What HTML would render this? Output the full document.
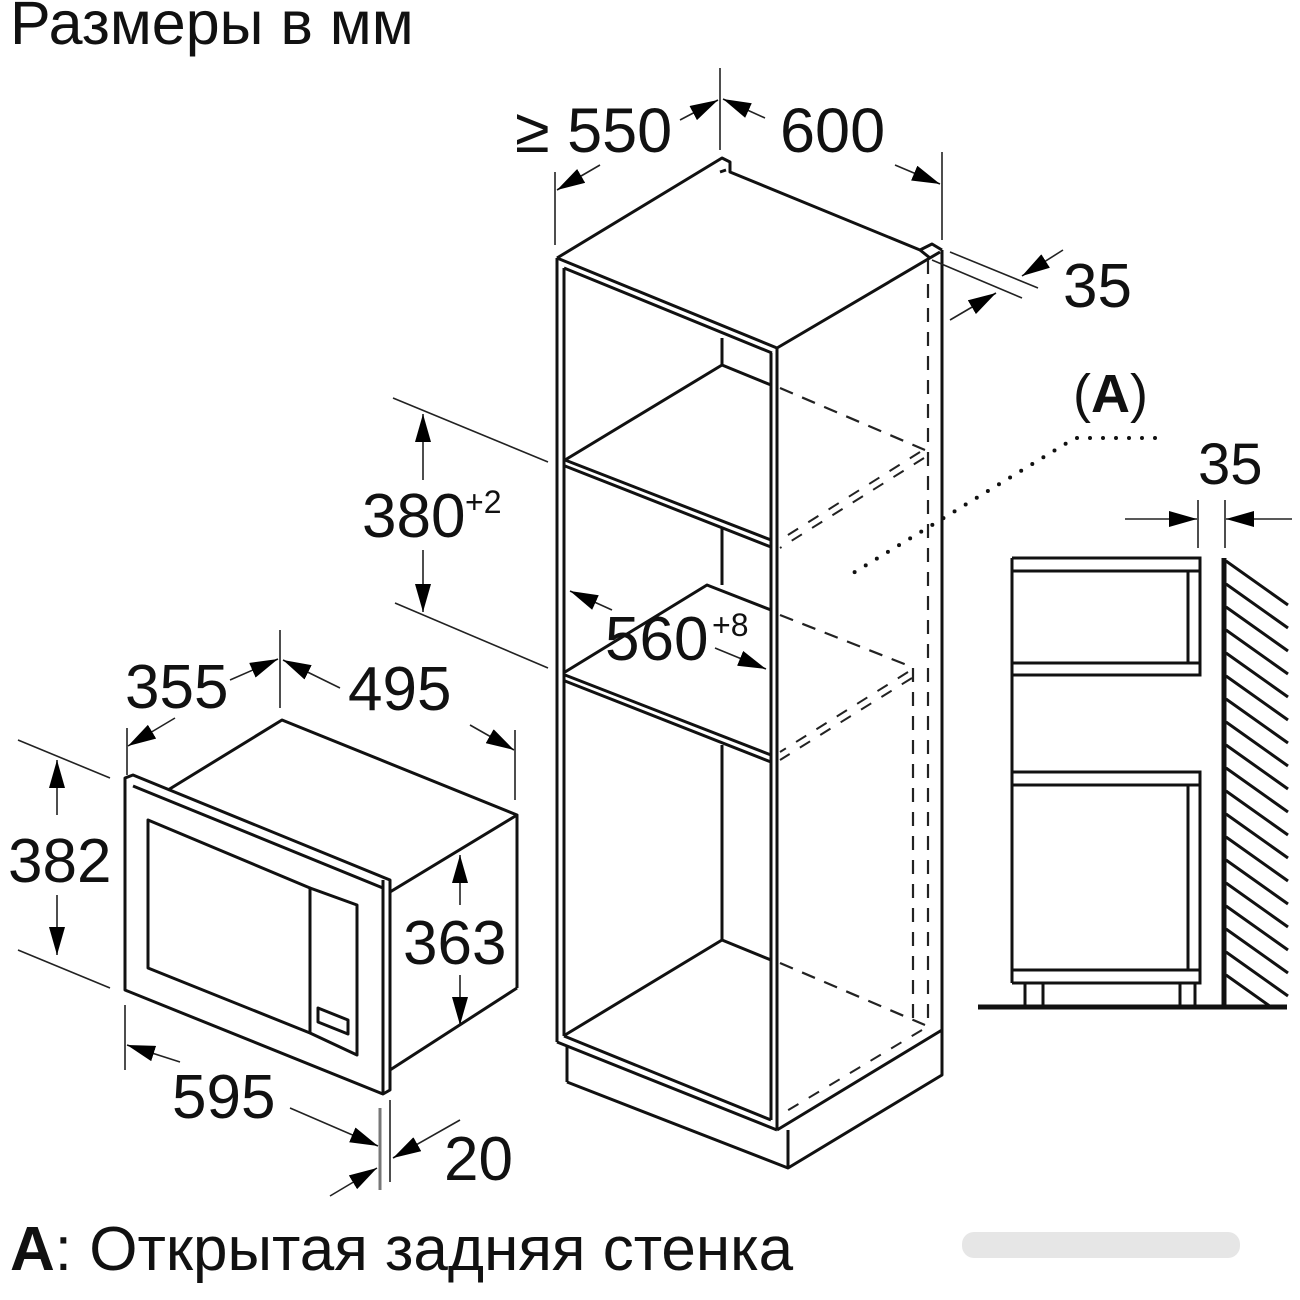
<!DOCTYPE html>
<html><head><meta charset="utf-8"><style>
html,body{margin:0;padding:0;background:#fff;}
svg{display:block;}
text{font-family:"Liberation Sans","DejaVu Sans",sans-serif;fill:#111;}
</style></head><body>
<svg width="1300" height="1300" viewBox="0 0 1300 1300" xmlns="http://www.w3.org/2000/svg">
<defs>
<marker id="ar" viewBox="0 0 28 16" refX="28" refY="8" markerWidth="28" markerHeight="16" markerUnits="userSpaceOnUse" orient="auto"><path d="M0,0 L28,8 L0,16 Z" fill="#000"/></marker>
<clipPath id="wallclip"><rect x="1224" y="560" width="66" height="446"/></clipPath>
</defs>

<text x="10" y="44" font-size="61">Размеры в мм</text>

<g fill="none" stroke="#111" stroke-width="3" stroke-linejoin="round">
  <polyline points="557,258 722,158 730,162 730,172 920,250 932,244 942,250"/>
  <polyline points="557,258 777,348 940,252"/>
  <line x1="726" y1="170" x2="720" y2="172"/>
  <line x1="920" y1="250" x2="930" y2="258"/>
  <line x1="557" y1="258" x2="557" y2="1042"/>
  <line x1="564" y1="268" x2="564" y2="1036"/>
  <polyline points="564,268 772,353"/>
  <line x1="777" y1="348" x2="777" y2="1130"/>
  <line x1="771" y1="353" x2="771" y2="1120"/>
  <line x1="942" y1="250" x2="942" y2="1030"/>
  <polyline points="722,338 722,365 771,385"/>
  <line x1="565" y1="460" x2="722" y2="365"/>
  <line x1="565" y1="460" x2="771" y2="540"/>
  <line x1="565" y1="466" x2="771" y2="547"/>
  <line x1="722" y1="527" x2="722" y2="585"/>
  <polyline points="565,672 707,585 771,610"/>
  <line x1="565" y1="675" x2="771" y2="755"/>
  <line x1="565" y1="681" x2="771" y2="762"/>
  <line x1="722" y1="745" x2="722" y2="940"/>
  <polyline points="565,1035 722,940 771,960"/>
  <line x1="557" y1="1042" x2="777" y2="1130"/>
  <line x1="564" y1="1036" x2="771" y2="1120"/>
  <line x1="567" y1="1045" x2="567" y2="1082"/>
  <polyline points="567,1082 788,1168 942,1075 942,1030 777,1130"/>
  <line x1="788" y1="1130" x2="788" y2="1168"/>
</g>
<g fill="none" stroke="#222" stroke-width="2.2" stroke-dasharray="14,10">
  <line x1="928" y1="260" x2="928" y2="1025"/>
  <line x1="913" y1="668" x2="913" y2="1020"/>
  <line x1="780" y1="388" x2="925" y2="450"/>
  <line x1="780" y1="615" x2="912" y2="667"/>
  <line x1="780" y1="963" x2="925" y2="1025"/>
</g>
<g fill="none" stroke="#222" stroke-width="2" stroke-dasharray="12,12">
  <line x1="920" y1="452" x2="780" y2="540"/>
  <line x1="924" y1="458" x2="780" y2="548"/>
  <line x1="908" y1="672" x2="780" y2="752"/>
  <line x1="912" y1="678" x2="780" y2="760"/>
  <line x1="922" y1="1030" x2="780" y2="1115"/>
</g>

<g stroke="#222" stroke-width="1.6" fill="none">
  <line x1="720" y1="68" x2="720" y2="150"/>
  <line x1="555" y1="172" x2="555" y2="245"/>
  <line x1="942" y1="152" x2="942" y2="240"/>
  <line x1="680" y1="120" x2="718" y2="100" marker-end="url(#ar)"/>
  <line x1="600" y1="165" x2="557" y2="190" marker-end="url(#ar)"/>
  <line x1="765" y1="118" x2="723" y2="99" marker-end="url(#ar)"/>
  <line x1="895" y1="165" x2="940" y2="184" marker-end="url(#ar)"/>
  <line x1="950" y1="252" x2="1038" y2="288"/>
  <line x1="932" y1="260" x2="1022" y2="298"/>
  <line x1="1063" y1="250" x2="1022" y2="276" marker-end="url(#ar)"/>
  <line x1="950" y1="320" x2="996" y2="293" marker-end="url(#ar)"/>
  <line x1="393" y1="398" x2="548" y2="462"/>
  <line x1="395" y1="603" x2="548" y2="668"/>
  <line x1="423" y1="480" x2="423" y2="414" marker-end="url(#ar)"/>
  <line x1="423" y1="550" x2="423" y2="612" marker-end="url(#ar)"/>
  <line x1="612" y1="610" x2="570" y2="591" marker-end="url(#ar)"/>
  <line x1="715" y1="648" x2="766" y2="669" marker-end="url(#ar)"/>
</g>
<text x="515" y="152" font-size="63">≥ 550</text>
<text x="780" y="152" font-size="63">600</text>
<text x="1063" y="307" font-size="62">35</text>
<text x="362" y="537" font-size="62">380</text>
<text x="465" y="513" font-size="32">+2</text>
<text x="605" y="660" font-size="62">560</text>
<text x="712" y="636" font-size="32">+8</text>

<text x="1073" y="412" font-size="54">(<tspan font-weight="bold">A</tspan>)</text>
<g fill="none" stroke="#111" stroke-width="4" stroke-linecap="round" stroke-dasharray="0,13">
  <polyline points="1155,438 1075,438 845,578"/>
</g>

<g fill="none" stroke="#111" stroke-width="3" stroke-linejoin="round">
  <polygon points="125,778 133,775 390,880 390,1090 383,1094 125,990"/>
  <line x1="133" y1="786" x2="383" y2="888"/>
  <line x1="383" y1="880" x2="383" y2="1093"/>
  <polyline points="168,790 282,720 517,815 390,892"/>
  <line x1="517" y1="815" x2="517" y2="988"/>
  <line x1="517" y1="988" x2="390" y2="1070"/>
  <polygon points="148,820 310,888 310,1033 148,968"/>
  <polyline points="310,888 357,905 357,1055 310,1033"/>
  <polygon points="318,1008 348,1020 348,1034 318,1022"/>
</g>
<g stroke="#222" stroke-width="1.6" fill="none">
  <line x1="280" y1="630" x2="280" y2="708"/>
  <line x1="127" y1="728" x2="127" y2="775"/>
  <line x1="515" y1="730" x2="515" y2="800"/>
  <line x1="230" y1="680" x2="278" y2="659" marker-end="url(#ar)"/>
  <line x1="175" y1="718" x2="128" y2="746" marker-end="url(#ar)"/>
  <line x1="340" y1="688" x2="283" y2="660" marker-end="url(#ar)"/>
  <line x1="470" y1="725" x2="514" y2="750" marker-end="url(#ar)"/>
  <line x1="18" y1="740" x2="110" y2="778"/>
  <line x1="18" y1="950" x2="110" y2="988"/>
  <line x1="57" y1="815" x2="57" y2="760" marker-end="url(#ar)"/>
  <line x1="57" y1="895" x2="57" y2="955" marker-end="url(#ar)"/>
  <line x1="460" y1="905" x2="460" y2="855" marker-end="url(#ar)"/>
  <line x1="460" y1="975" x2="460" y2="1025" marker-end="url(#ar)"/>
  <line x1="125" y1="1005" x2="125" y2="1070"/>
  <line x1="180" y1="1062" x2="127" y2="1045" marker-end="url(#ar)"/>
  <line x1="290" y1="1108" x2="378" y2="1146" marker-end="url(#ar)"/>
  <line x1="380" y1="1108" x2="380" y2="1190" stroke="#777" stroke-width="3"/>
  <line x1="390" y1="1100" x2="390" y2="1182"/>
  <line x1="330" y1="1196" x2="377" y2="1168" marker-end="url(#ar)"/>
  <line x1="460" y1="1120" x2="393" y2="1158" marker-end="url(#ar)"/>
</g>
<text x="125" y="708" font-size="62">355</text>
<text x="348" y="710" font-size="62">495</text>
<text x="8" y="882" font-size="62">382</text>
<text x="403" y="964" font-size="62">363</text>
<text x="172" y="1118" font-size="62">595</text>
<text x="444" y="1180" font-size="62">20</text>

<g fill="none" stroke="#111" stroke-width="3">
  <line x1="1012" y1="558" x2="1012" y2="983"/>
  <polyline points="1012,558 1200,558 1200,675 1012,675"/>
  <line x1="1012" y1="571" x2="1200" y2="571"/>
  <line x1="1012" y1="663" x2="1200" y2="663"/>
  <line x1="1188" y1="571" x2="1188" y2="663"/>
  <polyline points="1012,772 1200,772 1200,983 1012,983"/>
  <line x1="1012" y1="785" x2="1200" y2="785"/>
  <line x1="1012" y1="970" x2="1200" y2="970"/>
  <line x1="1188" y1="785" x2="1188" y2="970"/>
  <line x1="1025" y1="983" x2="1025" y2="1005"/>
  <line x1="1043" y1="983" x2="1043" y2="1005"/>
  <line x1="1180" y1="983" x2="1180" y2="1005"/>
  <line x1="1195" y1="983" x2="1195" y2="1005"/>
  <line x1="978" y1="1007" x2="1287" y2="1007" stroke-width="5"/>
  <line x1="1224" y1="558" x2="1224" y2="1005" stroke-width="5"/>
</g>
<g clip-path="url(#wallclip)" stroke="#111" stroke-width="3">
  <path d="M1226,561 l62,44 M1226,584 l62,44 M1226,607 l62,44 M1226,630 l62,44 M1226,653 l62,44 M1226,676 l62,44 M1226,699 l62,44 M1226,722 l62,44 M1226,745 l62,44 M1226,768 l62,44 M1226,791 l62,44 M1226,814 l62,44 M1226,837 l62,44 M1226,860 l62,44 M1226,883 l62,44 M1226,906 l62,44 M1226,929 l62,44 M1226,952 l62,44 M1226,975 l62,44"/>
</g>
<g stroke="#222" stroke-width="1.6" fill="none">
  <line x1="1198" y1="500" x2="1198" y2="548"/>
  <line x1="1225" y1="500" x2="1225" y2="548"/>
  <line x1="1125" y1="519" x2="1197" y2="519" marker-end="url(#ar)"/>
  <line x1="1292" y1="519" x2="1226" y2="519" marker-end="url(#ar)"/>
</g>
<text x="1198" y="484" font-size="58">35</text>

<text x="10" y="1270" font-size="62"><tspan font-weight="bold">A</tspan>: Открытая задняя стенка</text>
<rect x="962" y="1232" width="278" height="26" rx="12" fill="#e6e6e6"/>
</svg>
</body></html>
